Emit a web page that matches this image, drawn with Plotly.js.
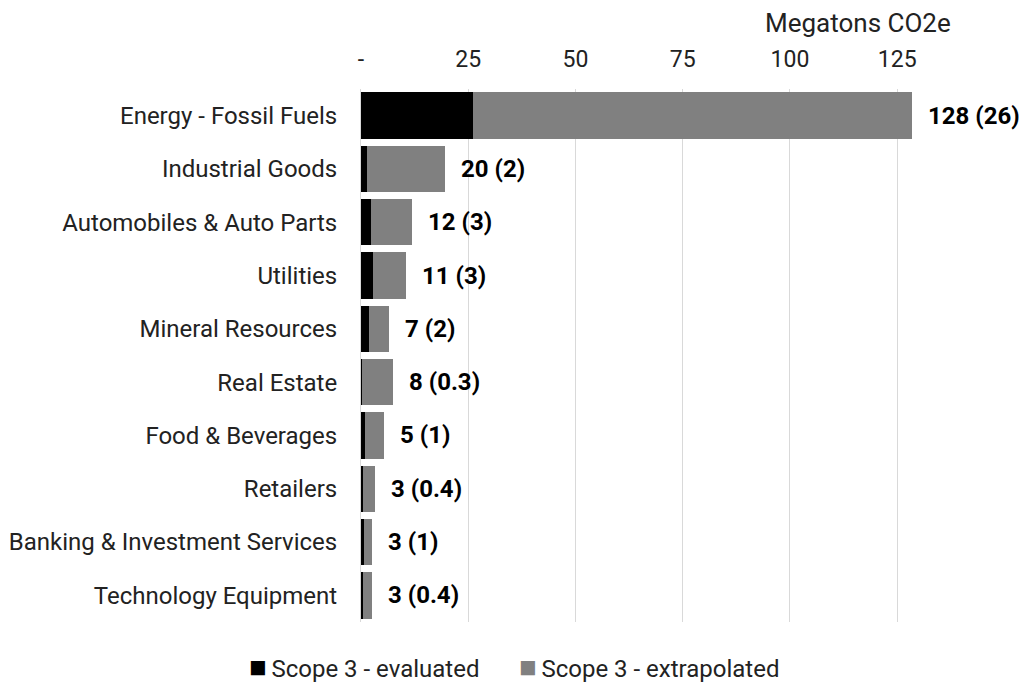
<!DOCTYPE html>
<html>
<head>
<meta charset="utf-8">
<script src="https://cdn.plot.ly/plotly-3.0.1.min.js"></script>
<style>
  html, body { margin: 0; padding: 0; background: #fff; }
  #chart { width: 1025px; height: 688px; }
</style>
</head>
<body>
<div id="chart"></div>
<script>
// Sectors, top to bottom
const sectors = [
    'Energy - Fossil Fuels',
    'Industrial Goods',
    'Automobiles & Auto Parts',
    'Utilities',
    'Mineral Resources',
    'Real Estate',
    'Food & Beverages',
    'Retailers',
    'Banking & Investment Services',
    'Technology Equipment'
];

// Megatons CO2e
const evaluated = [26, 1.5, 2.4, 2.7, 1.8, 0.3, 0.9, 0.4, 0.6, 0.4];
const extrapolated = [102.4, 18.1, 9.5, 7.9, 4.8, 7.1, 4.4, 2.8, 2.0, 2.2];

// labels printed at the end of each bar: total (evaluated)
const barLabels = ['128 (26)', '20 (2)', '12 (3)', '11 (3)', '7 (2)', '8 (0.3)', '5 (1)', '3 (0.4)', '3 (1)', '3 (0.4)'];

const xTicks = [0, 25, 50, 75, 100, 125];
const xTickText = ['-', '25', '50', '75', '100', '125'];

const seriesNames = ['Scope 3 - evaluated', 'Scope 3 - extrapolated'];
const seriesColors = ['#000000', '#808080'];

const fontFamily = 'Roboto, "Open Sans", sans-serif';
const textColor = '#222';

const totals = evaluated.map((v, i) => v + extrapolated[i]);

const traces = [
    {
        type: 'bar',
        orientation: 'h',
        name: seriesNames[0],
        y: sectors,
        x: evaluated,
        marker: { color: seriesColors[0] },
        hoverinfo: 'skip'
    },
    {
        type: 'bar',
        orientation: 'h',
        name: seriesNames[1],
        y: sectors,
        x: extrapolated,
        marker: { color: seriesColors[1] },
        hoverinfo: 'skip'
    }
];

const annotations = sectors.map((s, i) => ({
    x: totals[i],
    y: s,
    xref: 'x',
    yref: 'y',
    text: '<b>' + barLabels[i] + '</b>',
    showarrow: false,
    xanchor: 'left',
    yanchor: 'middle',
    xshift: 14,
    font: { family: fontFamily, size: 24, color: '#000' }
}));

// axis title sits above the tick labels, on the right
annotations.push({
    text: 'Megatons CO2e',
    xref: 'paper',
    yref: 'paper',
    x: 0.839,
    y: 1.0,
    yshift: 66,
    xanchor: 'center',
    yanchor: 'middle',
    showarrow: false,
    font: { family: fontFamily, size: 26, color: textColor }
});

// legend drawn as a row under the plot: square then name
const legendX = [-0.192, 0.263];
seriesNames.forEach((name, i) => {
    annotations.push({
        text: '<span style="color:' + seriesColors[i] + ';font-size:29px">■</span>\u2009' + name,
        xref: 'paper',
        yref: 'paper',
        x: legendX[i],
        y: 0,
        yshift: -45,
        xanchor: 'left',
        yanchor: 'middle',
        showarrow: false,
        font: { family: fontFamily, size: 24, color: textColor }
    });
});

const layout = {
    width: 1025,
    height: 688,
    barmode: 'stack',
    bargap: 0.13,
    paper_bgcolor: '#ffffff',
    plot_bgcolor: '#ffffff',
    margin: { l: 361, r: 72, t: 89, b: 66 },
    font: { family: fontFamily, size: 24, color: textColor },
    showlegend: false,
    xaxis: {
        side: 'top',
        range: [0, 138],
        tickvals: xTicks,
        ticktext: xTickText,
        showgrid: true,
        gridcolor: '#d9d9d9',
        gridwidth: 1,
        zeroline: false,
        showline: false,
        ticks: '',
        ticklabelstandoff: 16,
        fixedrange: true,
        tickfont: { family: fontFamily, size: 23, color: textColor }
    },
    yaxis: {
        autorange: 'reversed',
        showgrid: false,
        showline: true,
        linecolor: '#d9d9d9',
        linewidth: 1,
        zeroline: false,
        ticks: '',
        ticklabelstandoff: 18,
        fixedrange: true,
        tickfont: { family: fontFamily, size: 24, color: textColor }
    },
    annotations: annotations
};

Plotly.newPlot('chart', traces, layout, { staticPlot: true });
</script>
</body>
</html>
